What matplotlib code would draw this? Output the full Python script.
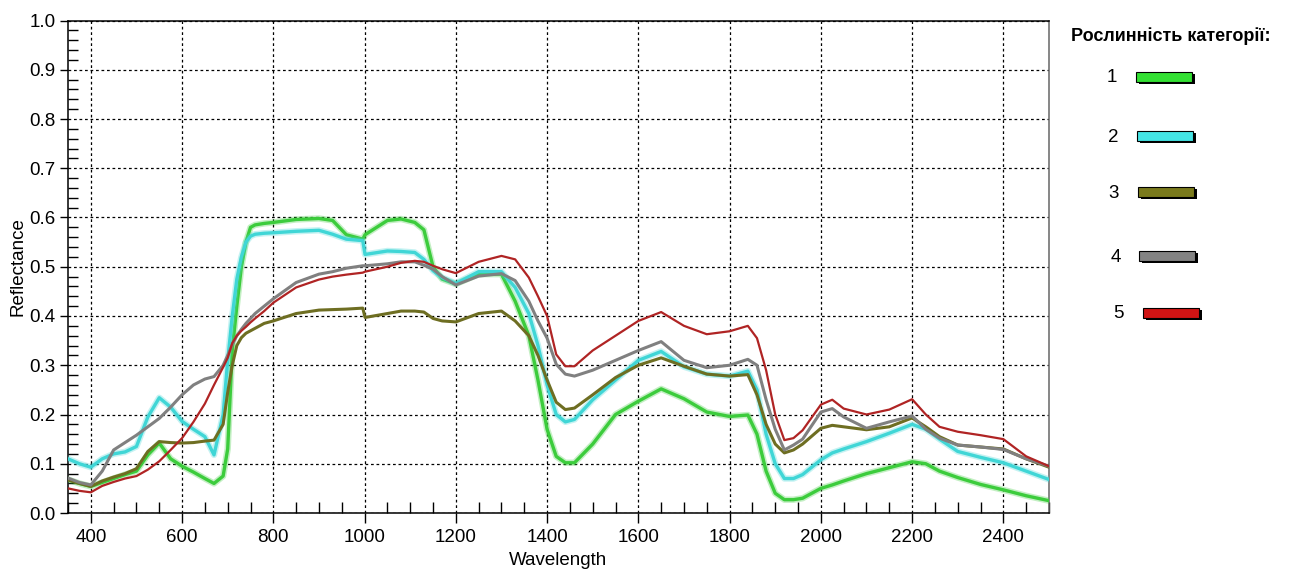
import matplotlib
matplotlib.use("Agg")
import matplotlib.pyplot as plt
import matplotlib.patches as patches
import matplotlib.patheffects as pe
from matplotlib.ticker import MultipleLocator
import numpy as np

plt.rcParams['font.family'] = ['Liberation Sans', 'DejaVu Sans']

# wavelength grid (nm), shared by all five spectra
wavelength = [350, 375, 400, 425, 450, 475, 500, 525, 550, 575, 600, 625, 650, 670, 690,
              700, 710, 720, 730, 740, 750, 760, 780, 800, 850, 900, 930, 960, 996, 1001,
              1050, 1080, 1110, 1130, 1150, 1170, 1200, 1250, 1300, 1330, 1360, 1380, 1400,
              1420, 1440, 1460, 1500, 1550, 1600, 1650, 1700, 1750, 1800, 1840, 1860, 1880,
              1900, 1920, 1940, 1960, 2000, 2025, 2050, 2100, 2150, 2200, 2230, 2260, 2300,
              2350, 2400, 2450, 2500]

cat1 = [0.068, 0.060, 0.054, 0.062, 0.070, 0.078, 0.085, 0.118, 0.142, 0.110, 0.095, 0.083,
        0.070, 0.060, 0.075, 0.130, 0.330, 0.420, 0.500, 0.550, 0.580, 0.585, 0.588, 0.590,
        0.596, 0.598, 0.594, 0.565, 0.556, 0.565, 0.594, 0.597, 0.590, 0.575, 0.500, 0.475,
        0.465, 0.485, 0.485, 0.430, 0.360, 0.270, 0.170, 0.115, 0.102, 0.102, 0.140, 0.200,
        0.227, 0.252, 0.232, 0.205, 0.196, 0.199, 0.160, 0.085, 0.040, 0.027, 0.027, 0.030,
        0.050, 0.057, 0.065, 0.080, 0.092, 0.104, 0.100, 0.085, 0.072, 0.058, 0.047, 0.035,
        0.025]

cat2 = [0.110, 0.100, 0.093, 0.110, 0.120, 0.124, 0.135, 0.195, 0.234, 0.215, 0.186, 0.170,
        0.155, 0.118, 0.200, 0.310, 0.400, 0.475, 0.520, 0.550, 0.562, 0.566, 0.568, 0.569,
        0.572, 0.574, 0.566, 0.556, 0.553, 0.525, 0.532, 0.531, 0.529, 0.515, 0.492, 0.478,
        0.466, 0.490, 0.490, 0.458, 0.405, 0.340, 0.260, 0.200, 0.185, 0.190, 0.230, 0.270,
        0.310, 0.328, 0.297, 0.282, 0.278, 0.288, 0.250, 0.160, 0.100, 0.070, 0.070, 0.078,
        0.108, 0.122, 0.130, 0.145, 0.162, 0.180, 0.170, 0.150, 0.125, 0.113, 0.102, 0.085,
        0.068]

cat3 = [0.067, 0.060, 0.054, 0.065, 0.073, 0.080, 0.090, 0.125, 0.145, 0.143, 0.142, 0.143,
        0.146, 0.148, 0.180, 0.245, 0.300, 0.340, 0.356, 0.365, 0.370, 0.375, 0.385, 0.390,
        0.405, 0.412, 0.413, 0.414, 0.416, 0.397, 0.405, 0.410, 0.410, 0.408, 0.395, 0.390,
        0.388, 0.405, 0.410, 0.390, 0.360, 0.320, 0.270, 0.225, 0.210, 0.213, 0.240, 0.275,
        0.300, 0.315, 0.298, 0.282, 0.278, 0.281, 0.240, 0.180, 0.140, 0.122, 0.128, 0.140,
        0.172, 0.178, 0.175, 0.169, 0.175, 0.193, 0.175, 0.155, 0.138, 0.134, 0.130, 0.110,
        0.093]

cat4 = [0.071, 0.062, 0.057, 0.085, 0.128, 0.143, 0.158, 0.175, 0.192, 0.215, 0.240, 0.260,
        0.272, 0.277, 0.300, 0.320, 0.342, 0.360, 0.373, 0.385, 0.395, 0.405, 0.420, 0.435,
        0.468, 0.485, 0.490, 0.497, 0.502, 0.502, 0.506, 0.510, 0.510, 0.503, 0.495, 0.480,
        0.463, 0.481, 0.486, 0.472, 0.430, 0.390, 0.355, 0.302, 0.282, 0.278, 0.290, 0.310,
        0.330, 0.348, 0.310, 0.295, 0.300, 0.312, 0.300, 0.230, 0.170, 0.128, 0.138, 0.150,
        0.205, 0.212, 0.195, 0.172, 0.185, 0.197, 0.170, 0.152, 0.138, 0.134, 0.129, 0.110,
        0.095]

cat5 = [0.050, 0.045, 0.042, 0.055, 0.063, 0.070, 0.075, 0.088, 0.105, 0.128, 0.152, 0.185,
        0.222, 0.260, 0.296, 0.315, 0.345, 0.360, 0.370, 0.378, 0.387, 0.395, 0.410, 0.427,
        0.458, 0.474, 0.480, 0.484, 0.488, 0.490, 0.500, 0.508, 0.512, 0.510, 0.502, 0.495,
        0.487, 0.510, 0.522, 0.515, 0.478, 0.440, 0.400, 0.322, 0.298, 0.298, 0.330, 0.360,
        0.390, 0.408, 0.380, 0.363, 0.369, 0.380, 0.355, 0.290, 0.200, 0.148, 0.152, 0.168,
        0.220, 0.230, 0.212, 0.200, 0.210, 0.231, 0.200, 0.175, 0.165, 0.158, 0.150, 0.115,
        0.095]

series = [cat1, cat2, cat3, cat4, cat5]
labels = ["1", "2", "3", "4", "5"]
line_colors = ["#3ccc3c", "#40d6d6", "#6e6e22", "#808080", "#b02424"]
box_colors = ["#33e033", "#44e4e4", "#7a7a1c", "#838383", "#d01414"]
widths = [2.4, 2.4, 2.2, 2.2, 1.6]

W, H = 1289, 574
fig = plt.figure(figsize=(W / 100, H / 100), dpi=100)
ax = fig.add_axes([68 / W, (H - 513) / H, (1049 - 68) / W, (513 - 20.5) / H])

for vals, col, lw in zip(series, line_colors, widths):
    ln, = ax.plot(wavelength, vals, color=col, lw=lw, solid_joinstyle='round', zorder=3)
    if col in ("#3ccc3c", "#40d6d6"):
        ln.set_path_effects([pe.Stroke(linewidth=lw + 2.2, foreground=col, alpha=0.3), pe.Normal()])

ax.set_xlim(350, 2500)
ax.set_ylim(0, 1.0)
ax.xaxis.set_major_locator(MultipleLocator(200))
ax.xaxis.set_minor_locator(MultipleLocator(50))
ax.yaxis.set_major_locator(MultipleLocator(0.1))
ax.yaxis.set_minor_locator(MultipleLocator(0.02))
ax.set_xticks(np.arange(400, 2401, 200))
ax.yaxis.set_major_formatter(matplotlib.ticker.FormatStrFormatter('%.1f'))

ax.tick_params(axis='x', which='major', direction='out', length=7.5, width=1, labelsize=13.5, pad=4)
ax.tick_params(axis='x', which='minor', direction='in', length=8, width=1)
ax.tick_params(axis='y', which='major', direction='out', length=6, width=1, labelsize=13.5, pad=3)
ax.tick_params(axis='y', which='minor', direction='in', length=7, width=1)

ax.grid(True, which='major', color='black', linestyle=(0, (2.2, 2.2)), linewidth=0.9)
for sp in ax.spines.values():
    sp.set_linewidth(1.1)
    sp.set_color('black')
ax.spines['right'].set_color('#666666')

ax.set_xlabel("Wavelength", fontsize=13.5, labelpad=4)
ax.set_ylabel("Reflectance", fontsize=13.5, labelpad=2)

# category key on the right, laid out in pixel units
lax = fig.add_axes([1050 / W, 0, (W - 1050) / W, 1])
lax.set_xlim(1050, W)
lax.set_ylim(H, 0)
lax.axis('off')
lax.text(1171, 36, "Рослинність категорії:", fontsize=13, fontweight='bold',
         ha='center', va='center')
num_x = [1112, 1113, 1114, 1116, 1118]
row_y = [78, 137, 193, 257, 314]
box_x = [1136, 1137, 1138, 1139, 1143]
for lab, col, nx, ry, bx in zip(labels, box_colors, num_x, row_y, box_x):
    lax.text(nx, ry, lab, fontsize=13.5, ha='center', va='center')
    lax.add_patch(patches.Rectangle((bx + 3, ry - 4), 56, 10, facecolor='black', edgecolor='none'))
    lax.add_patch(patches.Rectangle((bx, ry - 6), 56, 10, facecolor=col, edgecolor='black', lw=0.8))

fig.savefig("out.png", dpi=100)
